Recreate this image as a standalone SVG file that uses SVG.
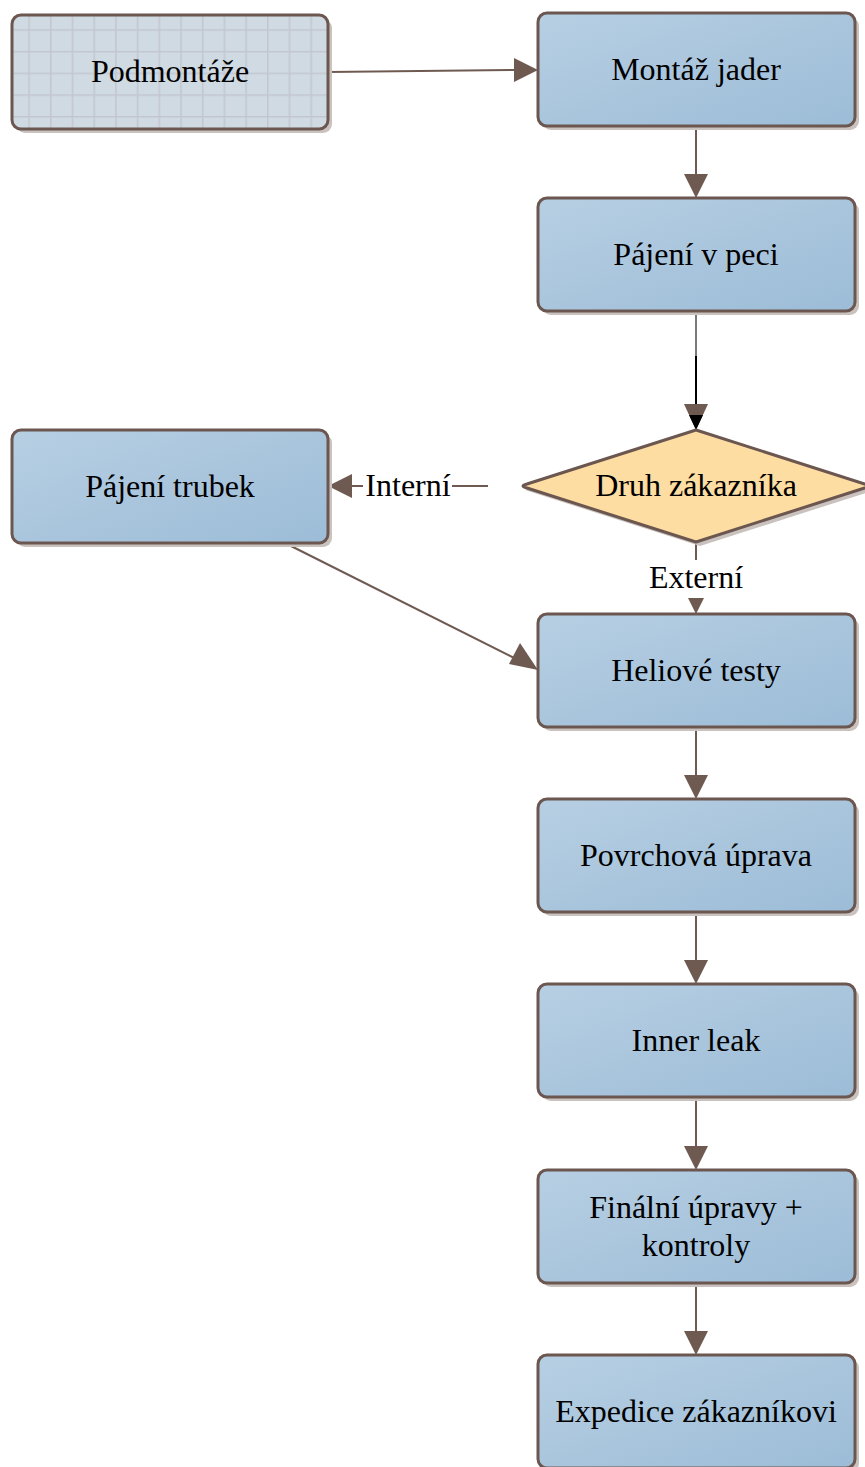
<svg xmlns="http://www.w3.org/2000/svg" width="865" height="1467" viewBox="0 0 865 1467">
<style>
.box{fill:url(#gBlue);stroke:#6b5750;stroke-width:3}
.shadow{fill:#c9c2be}
.t{font-family:"Liberation Serif","Times New Roman",serif;font-size:32px;fill:#000;text-anchor:middle}
.c{stroke:#6f5a52;stroke-width:2;fill:none}
.ah{fill:#6f5a52}
</style>
<defs>
<linearGradient id="gBlue" x1="0" y1="0" x2="1" y2="1">
<stop offset="0" stop-color="#b7cfe3"/>
<stop offset="1" stop-color="#9cbcd7"/>
</linearGradient>
<pattern id="grid" x="6.6" y="7.5" width="21.7" height="21.7" patternUnits="userSpaceOnUse">
<rect width="21.7" height="21.7" fill="#cfdae3"/>
<path d="M0 0.5H21.7M0.5 0V21.7" stroke="#c3c6cf" stroke-width="2"/>
</pattern>
</defs>
<rect width="865" height="1467" fill="#fff"/>

<g id="connectors">
<line class="c" x1="328" y1="72" x2="516" y2="70"/>
<polygon class="ah" points="538,70 514,58 514,82"/>
<line class="c" x1="696" y1="126" x2="696" y2="176"/>
<polygon class="ah" points="696,198 684,174 708,174"/>
<line x1="696" y1="311" x2="696" y2="420" stroke="#222" stroke-width="1.2"/>
<line x1="696" y1="356" x2="696" y2="418" stroke="#000" stroke-width="2"/>
<polygon class="ah" points="696,430 684,404 708,404"/>
<polygon points="696,430 689,415 703,415" fill="#000"/>
<line class="c" x1="488" y1="486" x2="350" y2="486"/>
<polygon class="ah" points="328,486 352,474 352,498"/>
<line class="c" x1="696" y1="542" x2="696" y2="592"/>
<polygon class="ah" points="696,614 684,590 708,590"/>
<line class="c" x1="285" y1="543" x2="518" y2="660"/>
<polygon class="ah" points="538,670 509,664 520,643"/>
<line class="c" x1="696" y1="727" x2="696" y2="777"/>
<polygon class="ah" points="696,799 684,775 708,775"/>
<line class="c" x1="696" y1="912" x2="696" y2="962"/>
<polygon class="ah" points="696,984 684,960 708,960"/>
<line class="c" x1="696" y1="1097" x2="696" y2="1148"/>
<polygon class="ah" points="696,1170 684,1146 708,1146"/>
<line class="c" x1="696" y1="1283" x2="696" y2="1333"/>
<polygon class="ah" points="696,1355 684,1331 708,1331"/>
<rect x="363" y="470" width="89" height="32" fill="#fff"/>
<text class="t" x="408" y="496">Interní</text>
<rect x="648" y="560" width="96" height="38" fill="#fff"/>
<text class="t" x="696" y="588">Externí</text>
</g>

<g id="podmontaze">
<rect class="shadow" x="16" y="19" width="316" height="114" rx="9"/>
<rect x="12" y="15" width="316" height="114" rx="9" fill="url(#grid)" stroke="#6b5750" stroke-width="3"/>
<text class="t" x="170" y="82">Podmontáže</text>
</g>

<g id="montaz-jader">
<rect class="shadow" x="542" y="17" width="317" height="113" rx="9"/>
<rect class="box" x="538" y="13" width="317" height="113" rx="9"/>
<text class="t" x="696" y="80">Montáž jader</text>
</g>

<g id="pajeni-v-peci">
<rect class="shadow" x="542" y="202" width="317" height="113" rx="9"/>
<rect class="box" x="538" y="198" width="317" height="113" rx="9"/>
<text class="t" x="696" y="265">Pájení v peci</text>
</g>

<g id="druh-zakaznika">
<path d="M700 434 L875 490 L700 546 L525 490 Z" fill="#c9c2be"/>
<path d="M696 430 L871 486 L696 542 L527 488 Q519 486 527 484 Z" fill="#fddda1" stroke="#6b5750" stroke-width="3" stroke-linejoin="round"/>
<text class="t" x="696" y="496">Druh zákazníka</text>
</g>

<g id="pajeni-trubek">
<rect class="shadow" x="16" y="434" width="316" height="113" rx="9"/>
<rect class="box" x="12" y="430" width="316" height="113" rx="9"/>
<text class="t" x="170" y="497">Pájení trubek</text>
</g>

<g id="heliove-testy">
<rect class="shadow" x="542" y="618" width="317" height="113" rx="9"/>
<rect class="box" x="538" y="614" width="317" height="113" rx="9"/>
<text class="t" x="696" y="681">Heliové testy</text>
</g>

<g id="povrchova-uprava">
<rect class="shadow" x="542" y="803" width="317" height="113" rx="9"/>
<rect class="box" x="538" y="799" width="317" height="113" rx="9"/>
<text class="t" x="696" y="866">Povrchová úprava</text>
</g>

<g id="inner-leak">
<rect class="shadow" x="542" y="988" width="317" height="113" rx="9"/>
<rect class="box" x="538" y="984" width="317" height="113" rx="9"/>
<text class="t" x="696" y="1051">Inner leak</text>
</g>

<g id="finalni-upravy">
<rect class="shadow" x="542" y="1174" width="317" height="113" rx="9"/>
<rect class="box" x="538" y="1170" width="317" height="113" rx="9"/>
<text class="t" x="696" y="1218">Finální úpravy +</text>
<text class="t" x="696" y="1256">kontroly</text>
</g>

<g id="expedice">
<rect class="shadow" x="542" y="1359" width="317" height="113" rx="9"/>
<rect class="box" x="538" y="1355" width="317" height="113" rx="9"/>
<text class="t" x="696" y="1422">Expedice zákazníkovi</text>
</g>
</svg>
